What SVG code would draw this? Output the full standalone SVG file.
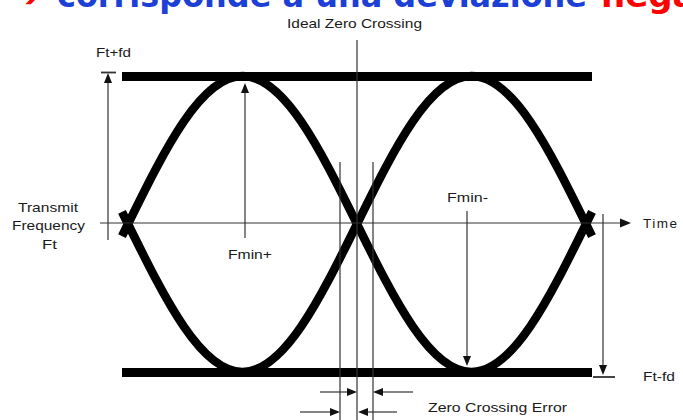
<svg xmlns="http://www.w3.org/2000/svg" width="683" height="420" viewBox="0 0 683 420">
<style>
.thin{stroke:#333;stroke-width:1.2;fill:none}
.bar{fill:#000}
.eye{stroke:#000;stroke-width:8.5;fill:none;stroke-linejoin:round}
.lbl{font-family:"Liberation Sans",Arial,sans-serif;font-size:13.5px;fill:#1a1a1a}
.head{fill:#111}
.title{font-family:"DejaVu Sans",sans-serif;font-weight:bold;font-size:34px}
</style>
<rect width="683" height="420" fill="#fff"/>
<g id="title">
<text class="title" x="12" y="7" fill="#ff0000">➔</text>
<text class="title" x="57" y="7" fill="#1c3fd6" textLength="530" lengthAdjust="spacingAndGlyphs">corrisponde a una deviazione</text>
<text class="title" x="601" y="7" fill="#ff0000">negativa</text>
</g>
<g id="bars">
<rect id="top-bar" class="bar" x="122" y="72" width="470" height="9"/>
<rect id="bottom-bar" class="bar" x="122" y="368" width="470" height="9"/>
</g>
<g id="eye">
<path id="curve-a" class="eye" d="M122,236.2 L128,224 C165.35,148.2 201.07,76 242.5,76 C283.93,76 319.65,148.2 357,224 C394.35,299.8 430.07,372 471.5,372 C512.93,372 548.65,299.8 586,224 L592,211.8"/>
<path id="curve-b" class="eye" d="M122,211.8 L128,224 C165.35,299.8 201.07,372 242.5,372 C283.93,372 319.65,299.8 357,224 C394.35,148.2 430.07,76 471.5,76 C512.93,76 548.65,148.2 586,224 L592,236.2"/>
</g>
<g id="connectors">
<line class="thin" x1="100" y1="223" x2="621" y2="223"/>
<polygon class="head" points="631,223 620,218.5 620,227.5"/>
<line class="thin" x1="357" y1="40" x2="357" y2="420"/>
<line class="thin" x1="340" y1="162" x2="340" y2="420"/>
<line class="thin" x1="373" y1="162" x2="373" y2="420"/>
<line class="thin" x1="108" y1="82" x2="108" y2="240"/>
<polygon class="head" points="108,73 104,83 112,83"/>
<line class="thin" x1="101" y1="72.5" x2="116" y2="72.5" style="stroke-width:1.8"/>
<line class="thin" x1="245" y1="92" x2="245" y2="238"/>
<polygon class="head" points="245,83 241,93 249,93"/>
<line class="thin" x1="467" y1="211" x2="467" y2="357"/>
<polygon class="head" points="467,366 463,356 471,356"/>
<line class="thin" x1="603" y1="214" x2="603" y2="366"/>
<polygon class="head" points="603,375 599,365 607,365"/>
<line class="thin" x1="593" y1="377" x2="615" y2="377" style="stroke-width:1.8"/>
<line class="thin" x1="320" y1="392" x2="348" y2="392"/>
<polygon class="head" points="357,392 347,388 347,396"/>
<line class="thin" x1="382" y1="392" x2="413" y2="392"/>
<polygon class="head" points="373,392 383,388 383,396"/>
<line class="thin" x1="300" y1="412" x2="331" y2="412"/>
<polygon class="head" points="340,412 330,408 330,416"/>
<line class="thin" x1="367" y1="412" x2="397" y2="412"/>
<polygon class="head" points="358,412 368,408 368,416"/>
</g>
<g id="labels">
<text id="ideal" class="lbl" x="287" y="28" textLength="135" lengthAdjust="spacingAndGlyphs">Ideal Zero Crossing</text>
<text id="ftfd-plus" class="lbl" x="96" y="57" textLength="35" lengthAdjust="spacingAndGlyphs">Ft+fd</text>
<text id="transmit" class="lbl" x="18" y="212" textLength="60" lengthAdjust="spacingAndGlyphs">Transmit</text>
<text class="lbl" x="12" y="230" textLength="73" lengthAdjust="spacingAndGlyphs">Frequency</text>
<text class="lbl" x="42" y="249" textLength="15" lengthAdjust="spacingAndGlyphs">Ft</text>
<text id="fminplus" class="lbl" x="228" y="259" textLength="44" lengthAdjust="spacingAndGlyphs">Fmin+</text>
<text id="fminminus" class="lbl" x="447" y="202" textLength="41" lengthAdjust="spacingAndGlyphs">Fmin-</text>
<text id="time" class="lbl" x="643" y="228" letter-spacing="1.5">Time</text>
<text id="ftfd-minus" class="lbl" x="643" y="381" textLength="32" lengthAdjust="spacingAndGlyphs">Ft-fd</text>
<text id="zce" class="lbl" x="428" y="412" textLength="139" lengthAdjust="spacingAndGlyphs">Zero Crossing Error</text>
</g>
</svg>
